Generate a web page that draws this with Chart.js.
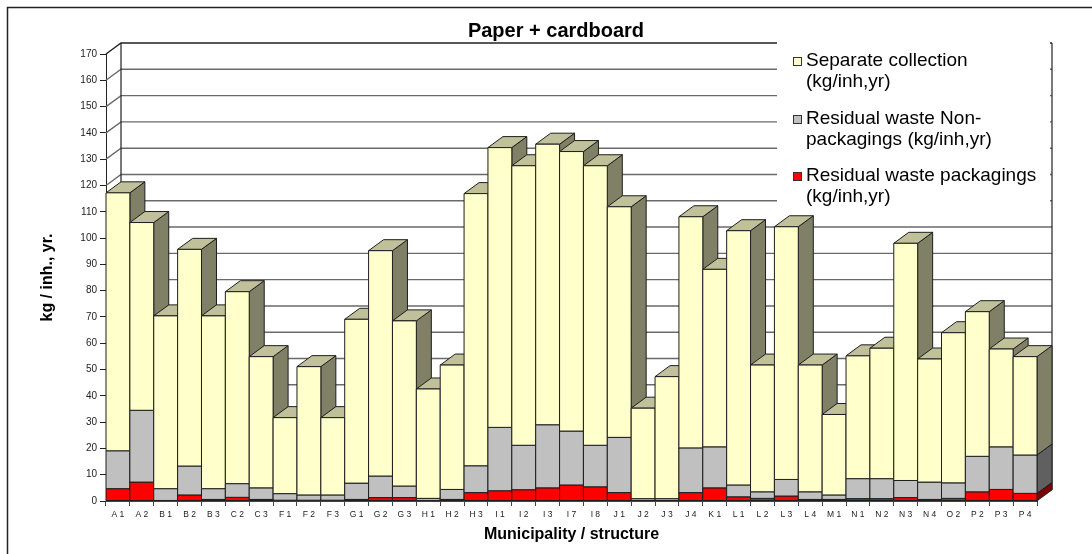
<!DOCTYPE html>
<html>
<head>
<meta charset="utf-8">
<script src="https://cdn.jsdelivr.net/npm/chart.js@4.4.1/dist/chart.umd.min.js"></script>
<style>
  html, body { margin: 0; padding: 0; background: #fff; }
  canvas { display: block; }
</style>
</head>
<body>
<canvas id="chart" width="1092" height="554"></canvas>
<script>
// Municipality / structure codes
const categories = ['A 1','A 2','B 1','B 2','B 3','C 2','C 3','F 1','F 2','F 3','G 1','G 2','G 3','H 1','H 2','H 3',
  'I 1','I 2','I 3','I 7','I 8','J 1','J 2','J 3','J 4','K 1','L 1','L 2','L 3','L 4','M 1','N 1','N 2','N 3','N 4',
  'O 2','P 2','P 3','P 4'];

// kg per inhabitant and year, stacked bottom to top
const packagings = [4.7,7.2,0.2,2.3,0.6,1.4,0.6,0.3,0.3,0.3,0.6,1.3,1.3,0.2,0.6,3.2,
  3.9,4.3,5.0,6.1,5.4,3.2,0.2,0.2,3.2,5.0,1.6,1.0,1.9,0.6,0.6,0.9,0.9,1.3,0.6,
  1.0,3.5,4.4,2.9];
const nonPackagings = [14.4,27.3,4.5,11.0,4.1,5.2,4.4,2.5,2.0,2.0,6.2,8.2,4.4,0.8,3.8,10.2,
  24.1,16.9,24.0,20.5,15.8,21.0,0.7,0.7,17.0,15.6,4.5,2.5,6.3,2.9,1.7,7.6,7.6,6.5,6.6,
  5.9,13.5,16.2,14.6];
const separateCollection = [98.1,71.4,65.7,82.4,65.7,73.0,49.9,28.9,48.8,29.4,62.3,85.7,62.8,41.6,47.3,103.5,
  106.4,106.3,106.7,106.3,106.3,87.7,34.4,46.4,87.9,67.5,96.7,48.2,96.1,48.2,30.6,46.7,49.6,90.2,46.8,
  57.1,55.0,37.2,37.4];

const seriesLabels = [
  ['Residual waste packagings', '(kg/inh,yr)'],
  ['Residual waste Non-', 'packagings (kg/inh,yr)'],
  ['Separate collection', '(kg/inh,yr)']
];
const yMax = 170;
const yStep = 10;
const chartTitle = 'Paper + cardboard';
const xTitle = 'Municipality / structure';
const yTitle = 'kg / inh., yr.';

// shading of each stacked segment: front, right side, top
const faces = [
  { front: '#FF0000', side: '#800000', top: '#C00000' },
  { front: '#C0C0C0', side: '#606060', top: '#909090' },
  { front: '#FFFFCC', side: '#808066', top: '#C0C09A' }
];
const DX = 15, DY = -11;       // depth offset of the 3-D columns
const EDGE = '#1e1e1e';
const FONT = "'Liberation Sans', Arial, sans-serif";

function poly(ctx, pts, fill, stroke) {
  ctx.beginPath();
  ctx.moveTo(pts[0][0], pts[0][1]);
  for (let k = 1; k < pts.length; k++) ctx.lineTo(pts[k][0], pts[k][1]);
  ctx.closePath();
  if (fill) { ctx.fillStyle = fill; ctx.fill(); }
  if (stroke) { ctx.strokeStyle = stroke; ctx.stroke(); }
}

const columns3d = {
  id: 'columns3d',
  beforeDatasetsDraw(chart) {
    const ctx = chart.ctx;
    const { left, right, top, bottom } = chart.chartArea;
    const ys = chart.scales.y;
    ctx.save();
    ctx.lineJoin = 'miter';

    // floor
    ctx.lineWidth = 1;
    poly(ctx, [[left, bottom], [right, bottom], [right + DX, bottom + DY], [left + DX, bottom + DY]], '#ffffff', '#666');

    // side wall diagonals and back wall gridlines
    ctx.lineWidth = 1.4;
    ys.ticks.forEach(t => {
      const py = ys.getPixelForValue(t.value);
      ctx.strokeStyle = t.value === yMax ? '#222' : '#6a6a6a';
      ctx.beginPath();
      ctx.moveTo(left, py);
      ctx.lineTo(left + DX, py + DY);
      ctx.lineTo(right + DX, py + DY);
      ctx.stroke();
    });
    ctx.strokeStyle = '#222';
    ctx.lineWidth = 1.2;
    ctx.beginPath();
    ctx.moveTo(left + DX, top + DY); ctx.lineTo(left + DX, bottom + DY);
    ctx.moveTo(right + DX, top + DY); ctx.lineTo(right + DX, bottom + DY);
    ctx.stroke();

    // columns, painted left to right so each front hides the previous side
    const metas = chart.data.datasets.map((_, d) => chart.getDatasetMeta(d));
    ctx.lineWidth = 1;
    for (let i = 0; i < categories.length; i++) {
      const segs = [];
      metas.forEach((m, d) => {
        const el = m.data[i];
        if (!el) return;
        const p = el.getProps(['x', 'y', 'base', 'width'], true);
        if (Math.abs(p.base - p.y) < 0.01) return;
        segs.push({ d, x0: p.x - p.width / 2, x1: p.x + p.width / 2, yt: Math.min(p.y, p.base), yb: Math.max(p.y, p.base) });
      });
      if (!segs.length) continue;
      segs.forEach(s => {
        poly(ctx, [[s.x1, s.yb], [s.x1, s.yt], [s.x1 + DX, s.yt + DY], [s.x1 + DX, s.yb + DY]], faces[s.d].side, EDGE);
      });
      const t = segs[segs.length - 1];
      poly(ctx, [[t.x0, t.yt], [t.x0 + DX, t.yt + DY], [t.x1 + DX, t.yt + DY], [t.x1, t.yt]], faces[t.d].top, EDGE);
      segs.forEach(s => {
        poly(ctx, [[s.x0, s.yb], [s.x0, s.yt], [s.x1, s.yt], [s.x1, s.yb]], faces[s.d].front, EDGE);
      });
    }
    ctx.restore();
    return false;
  },
  afterDraw(chart) {
    const ctx = chart.ctx;
    ctx.save();
    // outer frame
    ctx.strokeStyle = '#222';
    ctx.lineWidth = 1.5;
    ctx.beginPath();
    ctx.moveTo(7.5, 554); ctx.lineTo(7.5, 7.5); ctx.lineTo(1092, 7.5);
    ctx.stroke();

    // title
    ctx.fillStyle = '#000';
    ctx.font = 'bold 20px ' + FONT;
    ctx.textAlign = 'center';
    ctx.textBaseline = 'middle';
    ctx.fillText(chartTitle, 556, 31);

    // legend
    ctx.fillStyle = '#ffffff';
    ctx.fillRect(777, 40, 273, 174);
    ctx.font = '19px ' + FONT;
    ctx.textAlign = 'left';
    const rows = [2, 1, 0];
    const rowY = [61, 119, 176];
    rows.forEach((d, r) => {
      const y0 = rowY[r];
      ctx.fillStyle = faces[d].front;
      ctx.fillRect(793, y0 - 4, 9, 9);
      ctx.strokeStyle = '#333';
      ctx.lineWidth = 1;
      ctx.strokeRect(793.5, y0 - 3.5, 8, 8);
      ctx.fillStyle = '#000';
      seriesLabels[d].forEach((line, k) => ctx.fillText(line, 806, y0 + k * 21));
    });
    ctx.restore();
  }
};

new Chart(document.getElementById('chart'), {
  type: 'bar',
  data: {
    labels: categories,
    datasets: [
      { label: seriesLabels[0].join(' '), data: packagings, backgroundColor: faces[0].front },
      { label: seriesLabels[1].join(' '), data: nonPackagings, backgroundColor: faces[1].front },
      { label: seriesLabels[2].join(' '), data: separateCollection, backgroundColor: faces[2].front }
    ]
  },
  options: {
    responsive: false,
    animation: false,
    devicePixelRatio: 1,
    layout: { padding: { left: 0, right: 55, top: 54, bottom: 0 } },
    datasets: { bar: { categoryPercentage: 1, barPercentage: 1 } },
    plugins: { legend: { display: false }, title: { display: false }, tooltip: { enabled: false } },
    scales: {
      x: {
        stacked: true,
        afterFit(scale) { scale.height = 53; },
        grid: { drawOnChartArea: false, drawTicks: true, tickLength: 5, offset: true, color: '#444' },
        border: { display: true, color: '#222' },
        ticks: { font: { family: FONT, size: 8.5 }, color: '#222', maxRotation: 0, autoSkip: false, padding: 4 },
        title: { display: true, text: xTitle, font: { family: FONT, size: 16, weight: 'bold' }, color: '#000', padding: { top: 0, bottom: 10 } }
      },
      y: {
        stacked: true,
        min: 0,
        max: yMax,
        afterFit(scale) { scale.width = 106; },
        grid: { drawOnChartArea: false, drawTicks: true, tickLength: 6, color: '#222' },
        border: { display: true, color: '#222' },
        ticks: { stepSize: yStep, font: { family: FONT, size: 10 }, color: '#222', padding: 3 },
        title: { display: true, text: yTitle, font: { family: FONT, size: 16, weight: 'bold' }, color: '#000', padding: { top: 38, bottom: 0 } }
      }
    }
  },
  plugins: [columns3d]
});
</script>
</body>
</html>
